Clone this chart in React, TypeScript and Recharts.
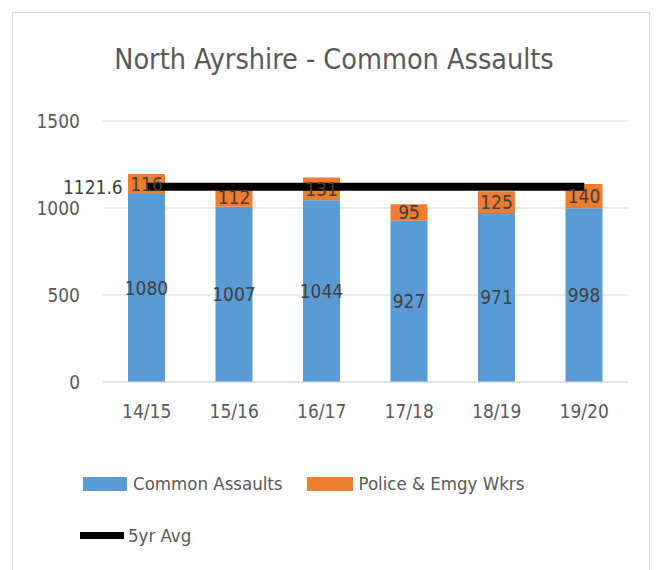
import {
  ComposedChart,
  Bar,
  Line,
  XAxis,
  YAxis,
  CartesianGrid,
  LabelList,
} from 'recharts';

const seasons = ['14/15', '15/16', '16/17', '17/18', '18/19', '19/20'];
const commonAssaults = [1080, 1007, 1044, 927, 971, 998];
const policeEmgy = [116, 112, 131, 95, 125, 140];
const fiveYrAvg = [1121.6, 1121.6, 1121.6, 1121.6, 1121.6, 1121.6];
const yTicks = [0, 500, 1000, 1500];

const BLUE = '#5B9BD5';
const ORANGE = '#ED7D31';
const TEXT = '#595959';
const FONT = '"Liberation Sans Narrow", "DejaVu Sans Condensed", "Open Sans", sans-serif';

const data = seasons.map((s, i) => ({
  season: s,
  common: commonAssaults[i],
  police: policeEmgy[i],
  avg: fiveYrAvg[i],
}));

// only the first point of the avg line gets a label, left of the line
function AvgLabel(props: any) {
  const { x, y, index, value } = props;
  if (index !== 0) return null;
  return (
    <text x={x - 24} y={y} dy={7} textAnchor="end" fontSize={19} fill="#404040" fontFamily={FONT}>
      {value}
    </text>
  );
}

export default function App() {
  return (
    <div style={{ position: 'fixed', left: 0, top: 0, width: 662, height: 570, background: '#fff', fontFamily: FONT }}>
      <div
        style={{
          position: 'absolute',
          left: 12,
          top: 12,
          width: 638,
          height: 570,
          border: '1px solid #d9d9d9',
          boxSizing: 'border-box',
        }}
      />
      <div
        style={{
          position: 'absolute',
          left: 0,
          width: 668,
          top: 43,
          textAlign: 'center',
          fontSize: 28.5,
          color: TEXT,
        }}
      >
        North Ayrshire - Common Assaults
      </div>
      <div style={{ position: 'absolute', left: 0, top: 0 }}>
        <ComposedChart
          width={662}
          height={570}
          data={data}
          margin={{ top: 121, right: 34, left: 0, bottom: 158 }}
          barSize={37}
        >
          <CartesianGrid vertical={false} stroke="#d9d9d9" />
          <XAxis
            dataKey="season"
            axisLine={{ stroke: '#d9d9d9' }}
            tickLine={false}
            tickMargin={17}
            height={30}
            tick={{ fontSize: 19, fill: TEXT, fontFamily: FONT }}
          />
          <YAxis
            domain={[0, 1500]}
            ticks={yTicks}
            width={103}
            axisLine={false}
            tickLine={false}
            tickMargin={17}
            tick={{ fontSize: 19, fill: TEXT, fontFamily: FONT }}
          />
          <Bar dataKey="common" stackId="a" fill={BLUE} isAnimationActive={false}>
            <LabelList dataKey="common" position="center" fill="#404040" fontSize={19} fontFamily={FONT} />
          </Bar>
          <Bar dataKey="police" stackId="a" fill={ORANGE} isAnimationActive={false}>
            <LabelList dataKey="police" position="center" fill="#404040" fontSize={19} fontFamily={FONT} />
          </Bar>
          <Line
            dataKey="avg"
            stroke="#000"
            strokeWidth={8}
            dot={false}
            isAnimationActive={false}
          >
            <LabelList dataKey="avg" content={AvgLabel} />
          </Line>
        </ComposedChart>
      </div>
      <div style={{ position: 'absolute', left: 83, top: 473, display: 'flex', alignItems: 'center', fontSize: 18.5, color: TEXT }}>
        <span style={{ width: 44, height: 14, background: BLUE, display: 'inline-block', marginRight: 6 }} />
        <span>Common Assaults</span>
        <span style={{ width: 46, height: 14, background: ORANGE, display: 'inline-block', marginLeft: 24, marginRight: 6 }} />
        <span>Police &amp; Emgy Wkrs</span>
      </div>
      <div style={{ position: 'absolute', left: 80, top: 525, display: 'flex', alignItems: 'center', fontSize: 18.5, color: TEXT }}>
        <span style={{ width: 44, height: 7, background: '#000', display: 'inline-block', marginRight: 4 }} />
        <span>5yr Avg</span>
      </div>
    </div>
  );
}
